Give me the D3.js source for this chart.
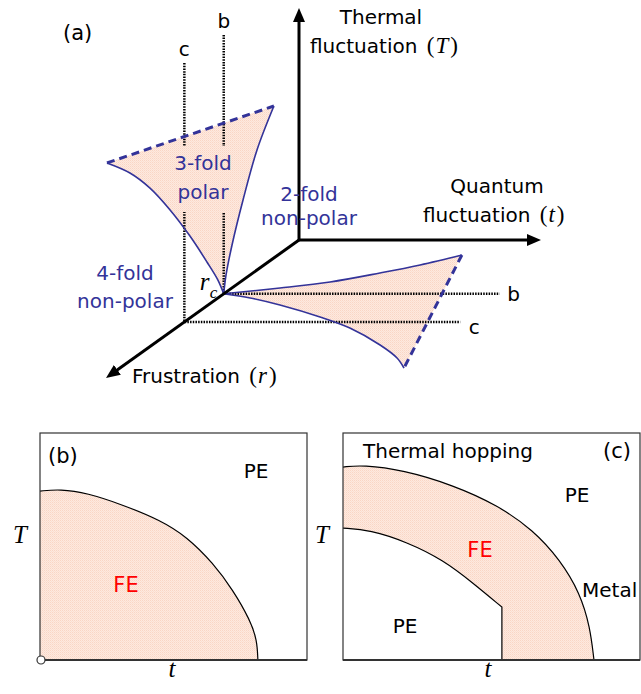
<!DOCTYPE html>
<html>

<head>
	<meta charset="utf-8">
	<title>Frustration / fluctuation phase diagram</title>
	<script src="https://cdn.jsdelivr.net/npm/d3@7/dist/d3.min.js"></script>
	<style>
		body {
			margin: 0;
			background: #fff;
		}

		svg text {
			font-family: "DejaVu Sans", sans-serif;
			font-size: 20px;
		}

		.sym {
			font-family: "Liberation Serif", serif;
			font-style: italic;
		}

		.paren {
			font-family: "Liberation Serif", serif;
			font-size: 23px;
		}

		.blue {
			fill: #333399;
		}

		.red {
			fill: #ff0000;
		}
	</style>
</head>

<body>
	<svg id="chart" width="641" height="694"></svg>

	<script>
		// ---- panel (a): sketch in (r, t, T), each axis runs 0 -> 1 up to its arrow tip
		var rc = 0.39;      // critical frustration, both sheets meet there
		var rCut = 0.594;   // frustration of the "c" cut
		var cutTop = 1.116, cutRight = 1.14;

		// 3-fold polar sheet in the t = 0 plane, [r, T]
		var polarLeft = [[0.39, 0], [0.42, 0.077], [0.477, 0.189], [0.565, 0.353], [0.668, 0.527], [0.772, 0.683], [0.876, 0.81], [0.995, 0.924]];
		var polarRight = [[0.39, 0], [0.378, 0.074], [0.347, 0.185], [0.29, 0.345], [0.218, 0.517], [0.13, 0.655]];

		// sheet in the T = 0 plane, [r, t]
		var planeUpper = [[0.39, 0], [0.348, 0.199], [0.304, 0.371], [0.239, 0.525], [0.181, 0.645], [0.109, 0.76]];
		var planeLower = [[0.39, 0], [0.42, 0.133], [0.471, 0.297], [0.558, 0.532], [0.638, 0.719], [0.761, 0.942], [0.855, 1.087], [0.928, 1.174]];

		// ---- panel (b): FE boundary, [t, T] on 0..1
		var feB = [[0, 0.744], [0.075, 0.753], [0.176, 0.736], [0.311, 0.683], [0.449, 0.617], [0.551, 0.542],
			[0.648, 0.427], [0.723, 0.308], [0.787, 0.176], [0.813, 0.088], [0.816, 0]];

		// ---- panel (c): FE band, [t, T] on 0..1
		var feCOuter = [[0, 0.85], [0.067, 0.859], [0.202, 0.837], [0.37, 0.771], [0.519, 0.683], [0.64, 0.573],
			[0.731, 0.441], [0.798, 0.295], [0.832, 0.145], [0.845, 0]];
		var feCInner = [[0, 0.581], [0.091, 0.573], [0.215, 0.52], [0.337, 0.441], [0.438, 0.339], [0.535, 0.233]];
		var innerStep = 0.535;   // inner boundary drops straight down here

		var svg = d3.select('#chart');
		var defs = svg.append('defs');

		// stippled peach fill
		var pat = defs.append('pattern')
			.attr('id', 'stipple')
			.attr('width', 2).attr('height', 2)
			.attr('patternUnits', 'userSpaceOnUse');
		pat.append('rect').attr('width', 2).attr('height', 2).attr('fill', '#fee9df');
		pat.append('rect').attr('width', 1).attr('height', 1).attr('fill', '#f9d6c5');
		pat.append('rect').attr('x', 1).attr('y', 1).attr('width', 1).attr('height', 1).attr('fill', '#fbdfd1');

		defs.append('marker')
			.attr('id', 'arrow')
			.attr('viewBox', '0 0 14 12')
			.attr('markerUnits', 'userSpaceOnUse')
			.attr('markerWidth', 14).attr('markerHeight', 12)
			.attr('refX', 8).attr('refY', 6)
			.attr('orient', 'auto')
			.append('path')
			.attr('d', 'M0,0 L14,6 L0,12 Z')
			.attr('fill', '#000');

		// ---------------- panel (a)
		var ox = 299, oy = 240;
		var rx = d3.scaleLinear().domain([0, 1]).range([0, -193]),
			ry = d3.scaleLinear().domain([0, 1]).range([0, 138]),
			tx = d3.scaleLinear().domain([0, 1]).range([0, 242]),
			Ty = d3.scaleLinear().domain([0, 1]).range([0, -232]);

		function project(r, t, T) {
			return [ox + rx(r) + tx(t), oy + ry(r) + Ty(T)];
		}

		var smooth = d3.line().curve(d3.curveCatmullRom);
		var straight = d3.line();

		var sheetA = function (pts) { return pts.map(function (d) { return project(d[0], 0, d[1]); }); };
		var sheetB = function (pts) { return pts.map(function (d) { return project(d[0], d[1], 0); }); };

		var pL = sheetA(polarLeft), pR = sheetA(polarRight);
		var qU = sheetB(planeUpper), qL = sheetB(planeLower);

		var a = svg.append('g').attr('class', 'panel-a');

		a.append('path')
			.attr('d', smooth(pL) + smooth(pR.slice().reverse()).replace(/^M/, 'L') + 'Z')
			.attr('fill', 'url(#stipple)');
		a.append('path')
			.attr('d', smooth(qU) + smooth(qL.slice().reverse()).replace(/^M/, 'L') + 'Z')
			.attr('fill', 'url(#stipple)');

		// b and c cuts
		var cuts = [
			{ r: rc, name: 'b' },
			{ r: rCut, name: 'c' }
		];
		cuts.forEach(function (c) {
			a.append('path')
				.attr('d', straight([project(c.r, 0, cutTop), project(c.r, 0, 0), project(c.r, cutRight, 0)]))
				.attr('fill', 'none')
				.attr('stroke', '#000')
				.attr('stroke-width', 2.5)
				.attr('stroke-dasharray', '1.5 1.2');
		});

		// text box behind "3-fold polar" hides the cuts
		a.append('rect')
			.attr('x', 176).attr('y', 146)
			.attr('width', 56).attr('height', 66)
			.attr('fill', 'url(#stipple)');

		// sheet edges
		[pL, pR, qU, qL].forEach(function (pts) {
			a.append('path')
				.attr('d', smooth(pts))
				.attr('fill', 'none')
				.attr('stroke', '#333399')
				.attr('stroke-width', 1.6);
		});
		[[pL[pL.length - 1], pR[pR.length - 1]], [qU[qU.length - 1], qL[qL.length - 1]]].forEach(function (e) {
			a.append('path')
				.attr('d', straight(e))
				.attr('fill', 'none')
				.attr('stroke', '#333399')
				.attr('stroke-width', 3)
				.attr('stroke-dasharray', '8 5');
		});

		// axes
		var axes = [project(0, 0, 1), project(0, 1, 0), project(1, 0, 0)];
		axes.forEach(function (tip) {
			var o = project(0, 0, 0);
			var dx = tip[0] - o[0], dy = tip[1] - o[1], len = Math.hypot(dx, dy);
			a.append('line')
				.attr('x1', o[0]).attr('y1', o[1])
				.attr('x2', tip[0] - dx / len * 6).attr('y2', tip[1] - dy / len * 6)
				.attr('stroke', '#000')
				.attr('stroke-width', 3)
				.attr('marker-end', 'url(#arrow)');
		});

		// labels
		a.append('text').attr('x', 63).attr('y', 40).style('font-size', '21px').text('(a)');

		cuts.forEach(function (c) {
			var top = project(c.r, 0, cutTop), right = project(c.r, cutRight, 0);
			a.append('text').attr('x', top[0]).attr('y', top[1] - 7)
				.attr('text-anchor', 'middle').text(c.name);
			a.append('text').attr('x', right[0] + 14).attr('y', right[1] + (c.name == 'b' ? 7 : 12))
				.attr('text-anchor', 'middle').text(c.name);
		});

		// axis title: sans words, then "( sym )" in serif
		function axisTitle(x, y, words, sym) {
			var t = a.append('text').attr('x', x).attr('y', y);
			t.append('tspan').text(words + ' ');
			t.append('tspan').attr('class', 'paren').attr('dx', 3).text('(');
			t.append('tspan').attr('class', 'sym').style('font-size', '23px').attr('dx', 1).text(sym);
			t.append('tspan').attr('class', 'paren').attr('dx', 2).text(')');
		}

		a.append('text').attr('x', 381).attr('y', 24).attr('text-anchor', 'middle').text('Thermal');
		axisTitle(310, 53, 'fluctuation', 'T');
		a.append('text').attr('x', 497).attr('y', 193).attr('text-anchor', 'middle').text('Quantum');
		axisTitle(423, 222, 'fluctuation', 't');
		axisTitle(132, 383, 'Frustration', 'r');

		var blueLabels = [
			{ x: 309, y: 201, s: '2-fold' }, { x: 309, y: 225, s: 'non-polar' },
			{ x: 203, y: 170, s: '3-fold' }, { x: 203, y: 199, s: 'polar' },
			{ x: 125, y: 280, s: '4-fold' }, { x: 125, y: 308, s: 'non-polar' }
		];
		a.selectAll('text.blue')
			.data(blueLabels)
			.enter()
			.append('text')
			.attr('class', 'blue')
			.attr('x', function (d) { return d.x; })
			.attr('y', function (d) { return d.y; })
			.attr('text-anchor', 'middle')
			.text(function (d) { return d.s; });

		var rcPt = project(rc, 0, 0);
		a.append('text').attr('class', 'sym')
			.attr('x', rcPt[0] - 24).attr('y', rcPt[1] - 4)
			.style('font-size', '25px').text('r');
		a.append('text').attr('class', 'sym')
			.attr('x', rcPt[0] - 14).attr('y', rcPt[1] + 4)
			.style('font-size', '17px').text('c');

		// ---------------- panels (b) and (c)
		var yB = d3.scaleLinear().domain([0, 1]).range([660, 433]);

		function frame(g, x, withOrigin) {
			g.append('rect')
				.attr('x', x(0)).attr('y', yB(1))
				.attr('width', x(1) - x(0)).attr('height', yB(0) - yB(1))
				.attr('fill', 'none')
				.attr('stroke', '#333')
				.attr('stroke-width', 1.2);
			g.append('line')
				.attr('x1', x(0)).attr('x2', x(1))
				.attr('y1', yB(0)).attr('y2', yB(0))
				.attr('stroke', '#333')
				.attr('stroke-width', 2);
			if (withOrigin) {
				g.append('circle')
					.attr('cx', x(0) + 1).attr('cy', yB(0)).attr('r', 4)
					.attr('fill', '#fff')
					.attr('stroke', '#333')
					.attr('stroke-width', 1.2);
			}
		}

		function label(g, x, y, s, cls, anchor) {
			return g.append('text')
				.attr('x', x).attr('y', y)
				.attr('class', cls || null)
				.attr('text-anchor', anchor || 'middle')
				.text(s);
		}

		// (b)
		var xBb = d3.scaleLinear().domain([0, 1]).range([40, 307]);
		var b = svg.append('g').attr('class', 'panel-b');
		var lineB = d3.line().curve(d3.curveBasis)
			.x(function (d) { return xBb(d[0]); })
			.y(function (d) { return yB(d[1]); });

		b.append('path')
			.attr('d', lineB(feB) + 'L' + xBb(0) + ',' + yB(0) + 'Z')
			.attr('fill', 'url(#stipple)');
		b.append('path')
			.attr('d', lineB(feB))
			.attr('fill', 'none')
			.attr('stroke', '#000')
			.attr('stroke-width', 1.2);
		frame(b, xBb, true);

		label(b, 48, 463, '(b)', null, 'start').style('font-size', '21px');
		label(b, 256, 478, 'PE');
		label(b, 126, 592, 'FE', 'red').style('font-size', '21px');
		label(b, 20, 543, 'T', 'sym').style('font-size', '25px');
		label(b, 172, 677, 't', 'sym').style('font-size', '25px');

		// (c)
		var xC = d3.scaleLinear().domain([0, 1]).range([343, 640]);
		var c = svg.append('g').attr('class', 'panel-c');
		var lineC = d3.line().curve(d3.curveBasis)
			.x(function (d) { return xC(d[0]); })
			.y(function (d) { return yB(d[1]); });
		var innerRev = feCInner.slice().reverse();

		c.append('path')
			.attr('d', lineC(feCOuter)
				+ 'L' + xC(innerStep) + ',' + yB(0)
				+ lineC(innerRev).replace(/^M/, 'L') + 'Z')
			.attr('fill', 'url(#stipple)');
		c.append('path')
			.attr('d', lineC(feCOuter))
			.attr('fill', 'none')
			.attr('stroke', '#000')
			.attr('stroke-width', 1.2);
		c.append('path')
			.attr('d', lineC(feCInner) + 'L' + xC(innerStep) + ',' + yB(0))
			.attr('fill', 'none')
			.attr('stroke', '#000')
			.attr('stroke-width', 1.2);
		frame(c, xC, false);

		label(c, 363, 458, 'Thermal hopping', null, 'start');
		label(c, 603, 458, '(c)', null, 'start').style('font-size', '21px');
		label(c, 577, 502, 'PE');
		label(c, 480, 557, 'FE', 'red').style('font-size', '21px');
		label(c, 582, 597, 'Metal', null, 'start');
		label(c, 405, 633, 'PE');
		label(c, 322, 543, 'T', 'sym').style('font-size', '25px');
		label(c, 488, 677, 't', 'sym').style('font-size', '25px');
	</script>
</body>

</html>
